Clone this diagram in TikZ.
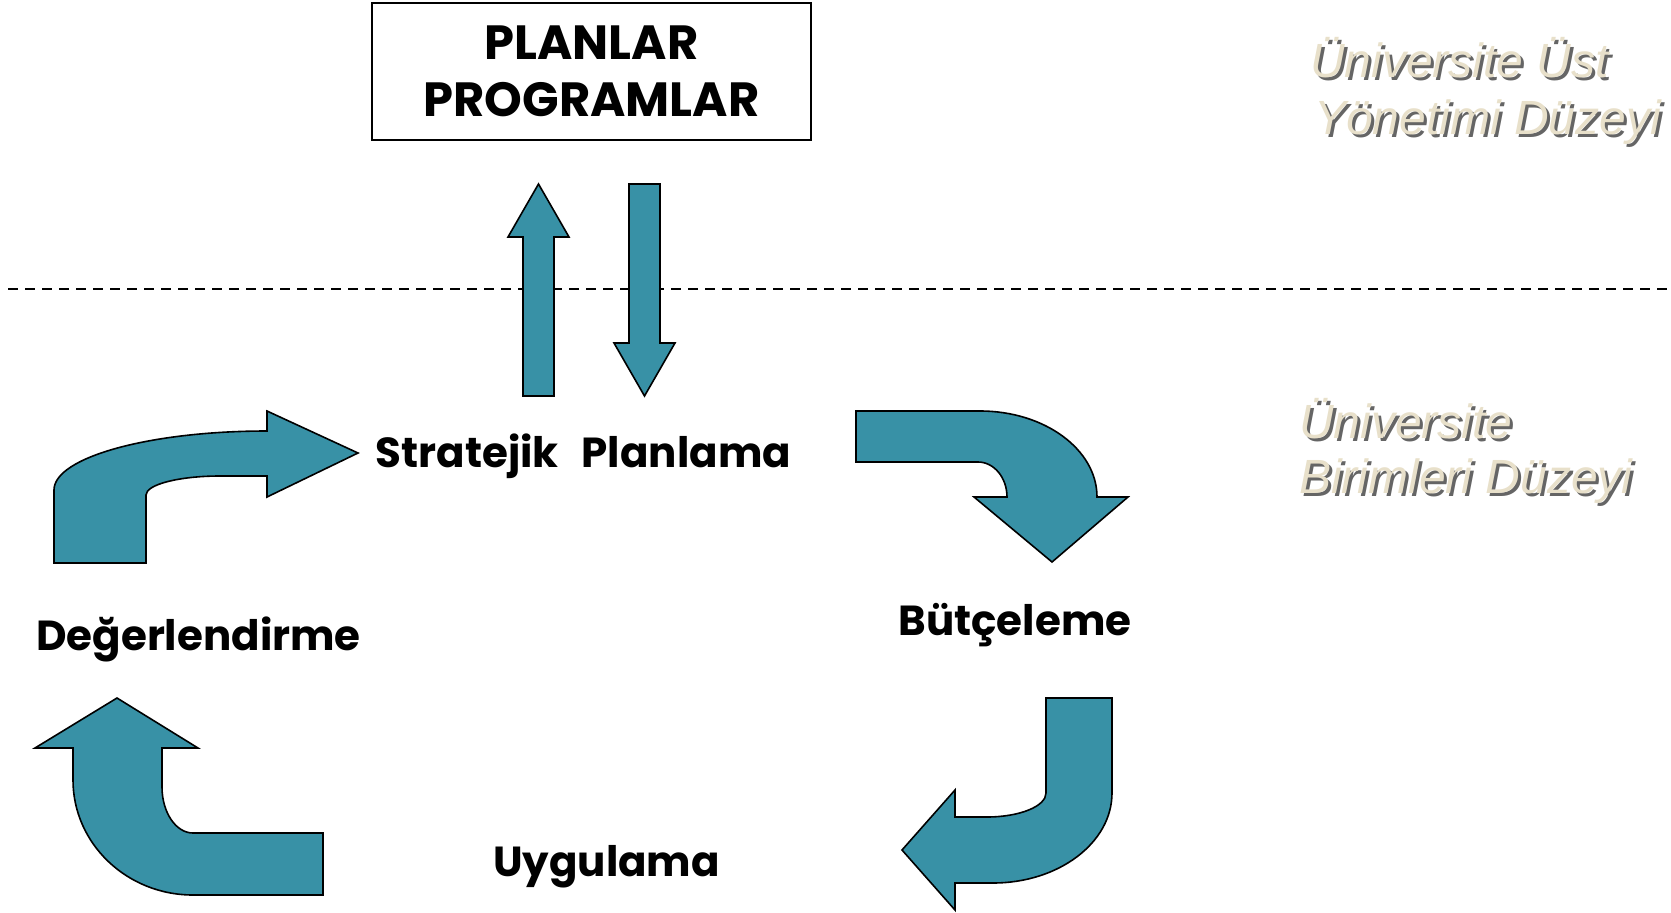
\documentclass[tikz,border=0pt]{standalone}
\usepackage{fontspec}
\setmainfont{Liberation Sans}
\newfontfamily\comicfont{Poppins}
\definecolor{arrowteal}{RGB}{56,145,166}
\definecolor{levelbeige}{RGB}{232,224,202}
\definecolor{levelshade}{RGB}{50,50,50}
\newcommand{\drawarrow}{\draw[line width=1.6pt, fill=arrowteal, line join=miter]}
\newcommand{\levelfont}{\itshape\fontsize{48}{56}\selectfont}
\newcommand{\levellabel}[4]{
  \node[text=levelshade, opacity=.75, anchor=base west, inner sep=0pt] (#1-s) at (#2+3,#3+3) {\levelfont #4};
  \node[text=levelbeige, anchor=base west, inner sep=0pt] (#1) at (#2,#3) {\levelfont #4};
}

\begin{document}
\begin{tikzpicture}[x=1pt, y=-1pt,
  stage/.style={font=\comicfont\bfseries\fontsize{42}{56}\selectfont, inner sep=0pt}]
\useasboundingbox (0,0) rectangle (1671,913);
\draw[line width=1.5pt, dash pattern=on 10pt off 7pt] (8,289) -- (1671,289);
\node[stage, font=\comicfont\bfseries\fontsize{48}{57}\selectfont, draw, line width=1.6pt, minimum width=439pt, minimum height=137pt, align=center] (plans) at (591.5,71.5) {PLANLAR\\PROGRAMLAR};
% up and down
\drawarrow (523,396)--++(0,-159)--++(-15,0)--++(30.5,-53)--++(30.5,53)--++(-15,0)--++(0,159)--cycle;
\drawarrow (629,184)--++(0,159)--++(-15,0)--++(30.5,53)--++(30.5,-53)--++(-15,0)--++(0,-159)--cycle;
% the cycle
\drawarrow (54,563)--++(0,-73) arc[start angle=180, end angle=270, x radius=213, y radius=59]
  --++(0,-20)--++(91,42)--++(-91,44)--++(0,-21)--++(-47,0)
  arc[start angle=270, end angle=180, x radius=74, y radius=19]--++(0,68)--cycle;
\drawarrow (856,411)--++(124,0) arc[start angle=270, end angle=360, x radius=117, y radius=86]
  --++(31,0)--++(-76,65)--++(-78,-65)--++(33,0)
  arc[start angle=0, end angle=-90, x radius=29, y radius=35]--++(-122,0)--cycle;
\drawarrow (1046,698)--++(66,0)--++(0,95) arc[start angle=0, end angle=90, x radius=119, y radius=90]
  --++(-38,0)--++(0,27)--++(-53,-60)--++(53,-60)--++(0,27)--++(32,0)
  arc[start angle=90, end angle=0, x radius=59, y radius=24]--cycle;
\drawarrow (323,833)--++(0,62)--++(-130,0) arc[start angle=90, end angle=180, x radius=120, y radius=115]
  --++(0,-32)--++(-38,0)--++(82,-50)--++(81,50)--++(-36,0)--++(0,39)
  arc[start angle=180, end angle=90, x radius=31, y radius=46]--cycle;
\node[stage, anchor=base] (strat) at (583.5,467) {Stratejik\hspace{14pt} Planlama};
\node[stage, anchor=base] (butce) at (1015,635) {Bütçeleme};
\node[stage, anchor=base] (uygu) at (606.5,876) {Uygulama};
\node[stage, anchor=base] (deger) at (198.5,650) {Değerlendirme};
\levellabel{ust1}{1310}{77}{Üniversite Üst}
\levellabel{ust2}{1314}{134}{Yönetimi Düzeyi}
\levellabel{bir1}{1299}{438}{Üniversite}
\levellabel{bir2}{1299}{493}{Birimleri Düzeyi}
\end{tikzpicture}
\end{document}
